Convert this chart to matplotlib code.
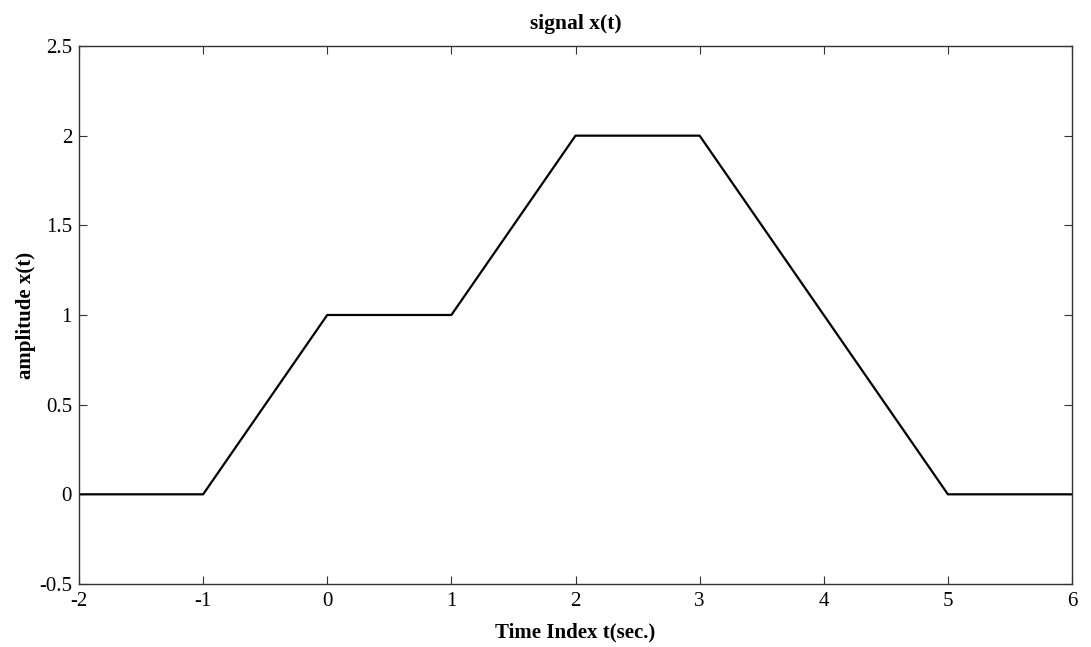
import matplotlib.pyplot as plt

# signal samples (breakpoints of the piecewise-linear signal)
t = [-2, -1, 0, 1, 2, 3, 5, 6]
x = [0, 0, 1, 1, 2, 2, 0, 0]

xticks = [-2, -1, 0, 1, 2, 3, 4, 5, 6]
yticks = [-0.5, 0, 0.5, 1, 1.5, 2, 2.5]

plt.rcParams['font.family'] = ['Liberation Serif', 'DejaVu Serif']

fig = plt.figure(figsize=(10.91, 6.47), dpi=100)
ax = fig.add_axes([0.0724, 0.0974, 0.9102, 0.8315])

ax.plot(t, x, color='black', linewidth=1.6)

ax.set_xlim(-2, 6)
ax.set_ylim(-0.5, 2.5)
ax.set_xticks(xticks)
ax.set_xticklabels([str(v) for v in xticks])
ax.set_yticks(yticks)
ax.set_yticklabels(['-0.5', '0', '0.5', '1', '1.5', '2', '2.5'])
ax.tick_params(direction='in', top=True, right=True, length=6, width=0.8,
               labelsize=15, color='#333333')
ax.tick_params(axis='x', pad=6)
ax.tick_params(axis='y', pad=5)
for s in ax.spines.values():
    s.set_linewidth(1.0)
    s.set_color('#333333')

ax.set_title('signal x(t)', fontsize=15.5, fontweight='bold', pad=12)
ax.set_xlabel('Time Index t(sec.)', fontsize=15, fontweight='bold', labelpad=8)
ax.set_ylabel('amplitude x(t)', fontsize=15, fontweight='bold', labelpad=2)

fig.savefig('out.png', dpi=100)
